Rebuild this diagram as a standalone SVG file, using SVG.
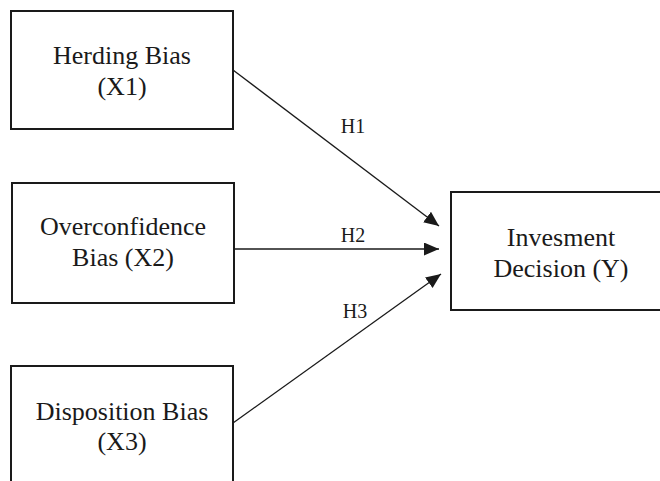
<svg xmlns="http://www.w3.org/2000/svg" width="660" height="481" viewBox="0 0 660 481">
  <style>
    .box { fill: #ffffff; stroke: #1a1a1a; stroke-width: 2; }
    .lbl { font-family: "Liberation Serif", "Times New Roman", serif; font-size: 26px; fill: #1a1a1a; text-anchor: middle; }
    .h { font-family: "Liberation Serif", "Times New Roman", serif; font-size: 20px; fill: #1a1a1a; text-anchor: middle; }
    .edge { stroke: #1a1a1a; stroke-width: 1.3; fill: none; marker-end: url(#arrow); }
  </style>
  <defs>
    <marker id="arrow" markerUnits="userSpaceOnUse" markerWidth="16" markerHeight="14" refX="15" refY="6.5" orient="auto">
      <path d="M0,0 L15,6.5 L0,13 Z" fill="#1a1a1a"/>
    </marker>
  </defs>
  <rect width="660" height="481" fill="#ffffff"/>

  <g id="x1">
    <rect class="box" x="11" y="11" width="222" height="118"/>
    <text class="lbl" x="122" y="64">Herding Bias</text>
    <text class="lbl" x="122" y="95">(X1)</text>
  </g>

  <g id="x2">
    <rect class="box" x="12" y="183" width="222" height="120"/>
    <text class="lbl" x="123" y="235">Overconfidence</text>
    <text class="lbl" x="123" y="266">Bias (X2)</text>
  </g>

  <g id="x3">
    <rect class="box" x="11" y="366" width="222" height="130"/>
    <text class="lbl" x="122" y="420">Disposition Bias</text>
    <text class="lbl" x="122" y="450">(X3)</text>
  </g>

  <g id="y">
    <rect class="box" x="451" y="192" width="221" height="118"/>
    <text class="lbl" x="561" y="246">Invesment</text>
    <text class="lbl" x="561" y="277">Decision (Y)</text>
  </g>

  <g id="connectors">
    <line class="edge" x1="233" y1="70" x2="439" y2="226"/>
    <line class="edge" x1="234" y1="249" x2="439" y2="249"/>
    <line class="edge" x1="233" y1="423" x2="441" y2="274"/>
    <text class="h" x="353" y="133">H1</text>
    <text class="h" x="353" y="242">H2</text>
    <text class="h" x="355" y="318">H3</text>
  </g>
</svg>
